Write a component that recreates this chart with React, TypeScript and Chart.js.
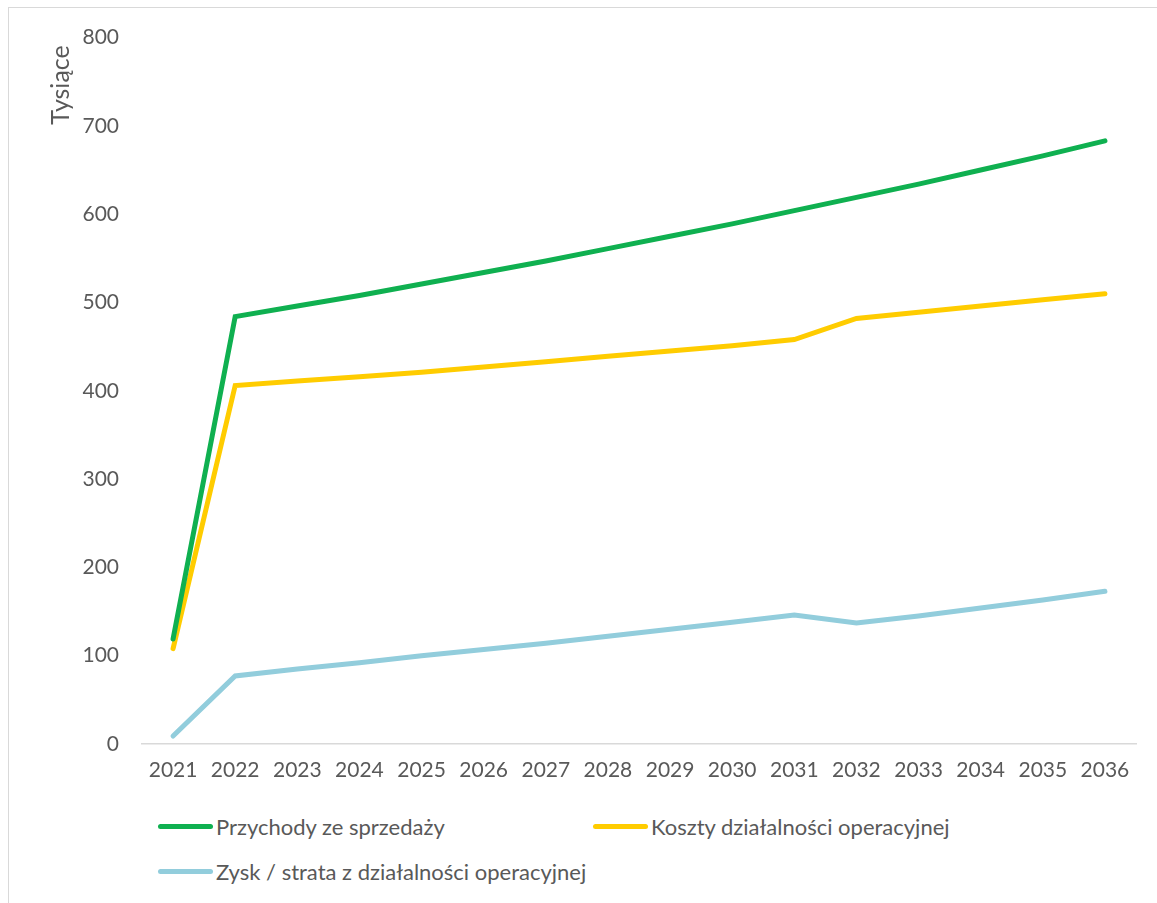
import React, { useEffect, useRef } from "react";
import { Chart, registerables } from "chart.js";

Chart.register(...registerables);

const years = ["2021","2022","2023","2024","2025","2026","2027","2028","2029","2030","2031","2032","2033","2034","2035","2036"];
const revenue = [119, 484, 496, 508, 521, 534, 547, 561, 575, 589, 604, 619, 634, 650, 666, 683];
const costs = [108, 406, 411, 416, 421, 427, 433, 439, 445, 451, 458, 482, 489, 496, 503, 510];
const profit = [9, 77, 85, 92, 100, 107, 114, 122, 130, 138, 146, 137, 145, 154, 163, 173];
const seriesNames = ["Przychody ze sprzedaży", "Koszty działalności operacyjnej", "Zysk / strata z działalności operacyjnej"];
const seriesColors = ["#0FB050", "#FFCC00", "#92CDDC"];
const axisTitle = "Tysiące";

const FONT = "Lato, 'Open Sans', sans-serif";
const GRAY = "#595959";
const SHIFT = 6;

export default function App() {
  const ref = useRef<HTMLCanvasElement | null>(null);
  useEffect(() => {
    if (!ref.current) return;
    const yTitlePlugin = {
      id: "yTitle",
      afterDraw(chart: any) {
        const ctx = chart.ctx;
        ctx.save();
        ctx.translate(52, 77 + SHIFT);
        ctx.rotate(-Math.PI / 2);
        ctx.font = `25px ${FONT}`;
        ctx.fillStyle = GRAY;
        ctx.textAlign = "center";
        ctx.textBaseline = "middle";
        ctx.fillText(axisTitle, 0, 0);
        ctx.restore();
      },
    };
    const data = [revenue, costs, profit];
    const chart = new Chart(ref.current, {
      type: "line",
      data: {
        labels: years,
        datasets: data.map((d, i) => ({
          label: seriesNames[i],
          data: d,
          borderColor: seriesColors[i],
          backgroundColor: seriesColors[i],
          borderWidth: 5,
          pointRadius: 0,
          tension: 0,
          borderCapStyle: "round" as const,
          borderJoinStyle: "miter" as const,
        })),
      },
      options: {
        responsive: false,
        animation: false,
        layout: { padding: { left: 0, right: 23, top: 16, bottom: 9 } },
        plugins: { legend: { display: false }, tooltip: { enabled: false } },
        scales: {
          x: {
            offset: true,
            grid: { display: false, drawTicks: false },
            border: { display: true, color: "#D9D9D9", width: 1.5 },
            ticks: { color: GRAY, font: { family: FONT, size: 21 }, padding: 14, maxRotation: 0, autoSkip: false },
            afterFit: (s: any) => { s.height = 45; },
          },
          y: {
            min: 0,
            max: 800,
            grid: { display: false, drawTicks: false },
            border: { display: false },
            ticks: { stepSize: 100, color: GRAY, font: { family: FONT, size: 21 }, padding: 23 },
            afterFit: (s: any) => { s.width = 133; },
          },
        },
      },
      plugins: [yTitlePlugin],
    });
    return () => chart.destroy();
  }, []);

  const legendItem = (i: number, left: number, top: number) => (
    <div style={{ position: "absolute", left, top, display: "flex", alignItems: "center" }}>
      <div style={{ width: 55, height: 4.5, borderRadius: 3, background: seriesColors[i], marginRight: 3 }} />
      <span style={{ font: `22px ${FONT}`, color: GRAY, whiteSpace: "nowrap" }}>{seriesNames[i]}</span>
    </div>
  );

  return (
    <div style={{ position: "absolute", left: 8, top: 7, width: 1170, height: 920, border: "1.5px solid #D9D9D9", background: "#fff", overflow: "hidden" }}>
      <canvas ref={ref} width={1150} height={790 + SHIFT} style={{ position: "absolute", left: 0, top: -SHIFT }} />
      {legendItem(0, 149, 805)}
      {legendItem(1, 584, 805)}
      {legendItem(2, 149, 850)}
    </div>
  );
}
